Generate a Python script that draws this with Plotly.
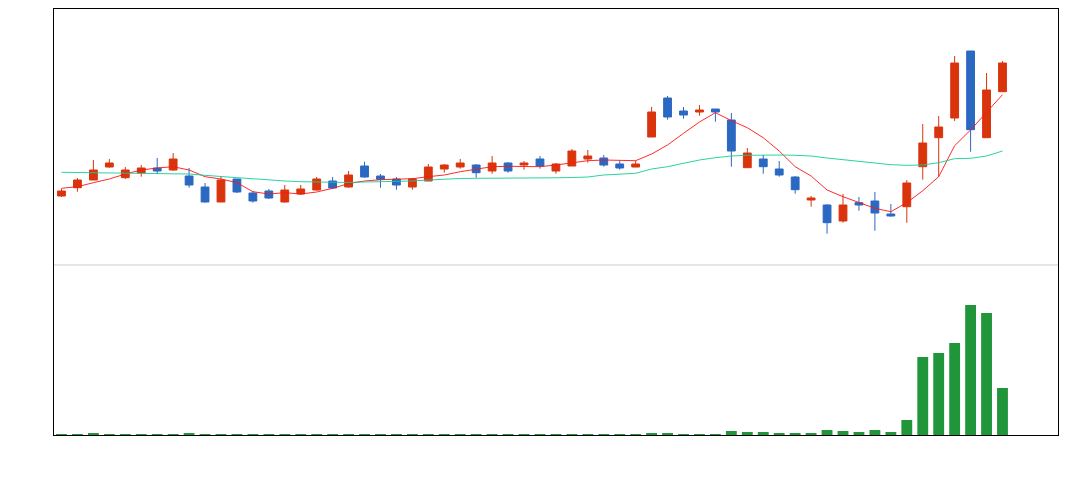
import plotly.graph_objects as go

# trading day index
days = list(range(60))

opens = [16.90, 17.73, 18.50, 19.80, 18.73, 19.20, 19.70, 19.50, 18.90, 17.80,
         16.30, 18.60, 17.20, 17.40, 16.30, 17.10, 17.50, 18.40, 17.80, 19.90,
         18.90, 18.60, 17.80, 18.40, 19.60, 19.80, 20.00, 19.40, 20.20, 20.00,
         20.60, 19.40, 19.90, 20.60, 20.70, 20.10, 19.80, 22.80, 26.70, 25.40,
         25.30, 25.60, 24.50, 19.73, 20.60, 19.60, 18.80, 16.50, 16.00, 14.40,
         16.23, 16.40, 15.10, 15.83, 19.83, 22.73, 24.70, 31.40, 22.73, 27.33]
highs = [17.63, 18.70, 20.50, 20.60, 19.80, 20.00, 20.70, 21.20, 19.70, 18.20,
         18.90, 18.60, 17.40, 17.60, 18.00, 18.00, 18.80, 18.80, 19.40, 20.33,
         19.10, 18.80, 18.70, 20.10, 20.10, 20.60, 20.10, 20.90, 20.30, 20.40,
         20.90, 20.20, 21.60, 21.50, 21.00, 20.43, 20.43, 25.80, 26.90, 25.80,
         26.00, 25.60, 25.20, 21.70, 21.00, 20.40, 18.90, 16.90, 16.10, 17.10,
         16.80, 17.30, 16.10, 18.50, 24.10, 24.90, 30.90, 31.40, 29.20, 30.40]
lows = [16.80, 17.33, 18.50, 19.73, 18.60, 18.83, 19.10, 19.40, 17.73, 16.23,
        16.30, 17.20, 16.23, 16.60, 16.23, 17.00, 17.43, 17.63, 17.73, 18.73,
        17.73, 17.53, 17.53, 18.40, 19.23, 19.63, 18.73, 19.13, 19.23, 19.53,
        19.63, 19.13, 19.90, 20.23, 19.83, 19.53, 19.77, 22.80, 24.53, 24.63,
        24.93, 24.33, 19.83, 19.73, 19.13, 18.83, 17.13, 15.83, 13.13, 14.23,
        15.43, 13.43, 14.83, 14.23, 18.53, 18.83, 24.40, 21.33, 22.73, 27.33]
closes = [17.40, 18.50, 19.50, 20.20, 19.50, 19.70, 19.40, 20.60, 18.00, 16.30,
          18.50, 17.30, 16.40, 16.70, 17.50, 17.60, 18.60, 17.70, 19.00, 18.80,
          18.57, 18.00, 18.60, 19.80, 20.00, 20.20, 19.23, 20.20, 19.40, 20.20,
          19.90, 20.10, 21.40, 20.90, 20.00, 19.70, 20.10, 25.30, 24.80, 25.00,
          25.50, 25.30, 21.40, 21.20, 19.83, 19.00, 17.53, 16.70, 14.23, 16.00,
          16.00, 15.20, 14.90, 18.20, 22.20, 23.80, 30.20, 23.53, 27.50, 30.20]

ma_short = [17.67, 17.83, 18.23, 18.60, 19.10, 19.50, 19.70, 19.83, 19.50, 18.83,
            18.60, 18.23, 17.33, 17.10, 17.23, 17.10, 17.30, 17.67, 18.15, 18.40,
            18.53, 18.57, 18.63, 18.83, 19.00, 19.33, 19.57, 19.83, 19.87, 19.87,
            19.83, 20.00, 20.23, 20.43, 20.50, 20.43, 20.43, 21.10, 22.00, 23.17,
            24.30, 25.23, 24.43, 23.73, 22.73, 21.40, 19.83, 18.90, 17.50, 16.83,
            16.27, 15.67, 15.33, 16.23, 17.43, 18.83, 21.93, 23.50, 25.27, 27.03]
ma_long = [19.27, 19.25, 19.22, 19.20, 19.20, 19.18, 19.17, 19.17, 19.10, 18.97,
           18.83, 18.73, 18.63, 18.50, 18.40, 18.33, 18.30, 18.27, 18.25, 18.30,
           18.33, 18.35, 18.40, 18.50, 18.60, 18.65, 18.67, 18.67, 18.67, 18.68,
           18.70, 18.72, 18.75, 18.80, 19.00, 19.07, 19.17, 19.60, 19.83, 20.17,
           20.50, 20.73, 20.90, 20.97, 21.00, 21.00, 20.97, 20.90, 20.70, 20.53,
           20.37, 20.23, 20.03, 19.97, 20.00, 20.23, 20.63, 20.67, 20.90, 21.40]

# volume, millions of shares
volumes = [0.10, 0.10, 0.20, 0.10, 0.10, 0.10, 0.10, 0.10, 0.20, 0.10,
           0.10, 0.10, 0.10, 0.10, 0.10, 0.10, 0.10, 0.10, 0.10, 0.10,
           0.10, 0.10, 0.10, 0.10, 0.10, 0.10, 0.10, 0.10, 0.10, 0.10,
           0.10, 0.10, 0.10, 0.10, 0.10, 0.10, 0.10, 0.20, 0.20, 0.10,
           0.10, 0.10, 0.40, 0.30, 0.30, 0.20, 0.20, 0.20, 0.50, 0.40,
           0.30, 0.50, 0.30, 1.50, 7.80, 8.20, 9.20, 13.00, 12.20, 4.70]

RED = "#d9340c"
BLUE = "#2b68c2"
GREEN = "#20953a"

split = (435 - 265) / 426

fig = go.Figure()
fig.add_trace(go.Candlestick(
    x=days, open=opens, high=highs, low=lows, close=closes,
    increasing=dict(line=dict(color=RED, width=1), fillcolor=RED),
    decreasing=dict(line=dict(color=BLUE, width=1), fillcolor=BLUE),
    whiskerwidth=0, yaxis="y", xaxis="x", showlegend=False,
))
fig.add_trace(go.Scatter(x=days, y=ma_short, mode="lines",
                         line=dict(color="rgba(255,20,20,0.9)", width=1),
                         showlegend=False))
fig.add_trace(go.Scatter(x=days, y=ma_long, mode="lines",
                         line=dict(color="rgba(20,205,150,0.9)", width=1),
                         showlegend=False))
fig.add_trace(go.Bar(x=days, y=volumes, marker=dict(color=GREEN, line_width=0),
                     width=0.68, yaxis="y2", xaxis="x2", showlegend=False))

xrange = [-0.47, 62.48]
frame = dict(showline=True, linecolor="black", linewidth=1)
# the page body adds an 8px offset, so margins are shifted accordingly
fig.update_layout(
    width=1083, height=480,
    margin=dict(l=46, r=33, t=1, b=53),
    paper_bgcolor="white", plot_bgcolor="white",
    boxgap=0.3,
    xaxis=dict(range=xrange, domain=[0, 1], anchor="y", side="top",
               showticklabels=False, ticks="", showgrid=False, zeroline=False,
               rangeslider=dict(visible=False), **frame),
    xaxis2=dict(range=xrange, domain=[0, 1], anchor="y2", matches="x",
                showticklabels=False, ticks="", showgrid=False, zeroline=False,
                **frame),
    yaxis=dict(range=[10.0, 35.6], domain=[split, 1], showticklabels=False,
               ticks="", showgrid=False, zeroline=False, mirror=True, **frame),
    yaxis2=dict(range=[0, 17.0], domain=[0, split], showticklabels=False,
                ticks="", showgrid=False, zeroline=False, mirror=True, **frame),
    shapes=[
        dict(type="line", xref="paper", yref="paper", x0=0, x1=1, y0=split, y1=split,
             line=dict(color="#cccccc", width=1)),
    ],
)

fig.write_html("out.html")
